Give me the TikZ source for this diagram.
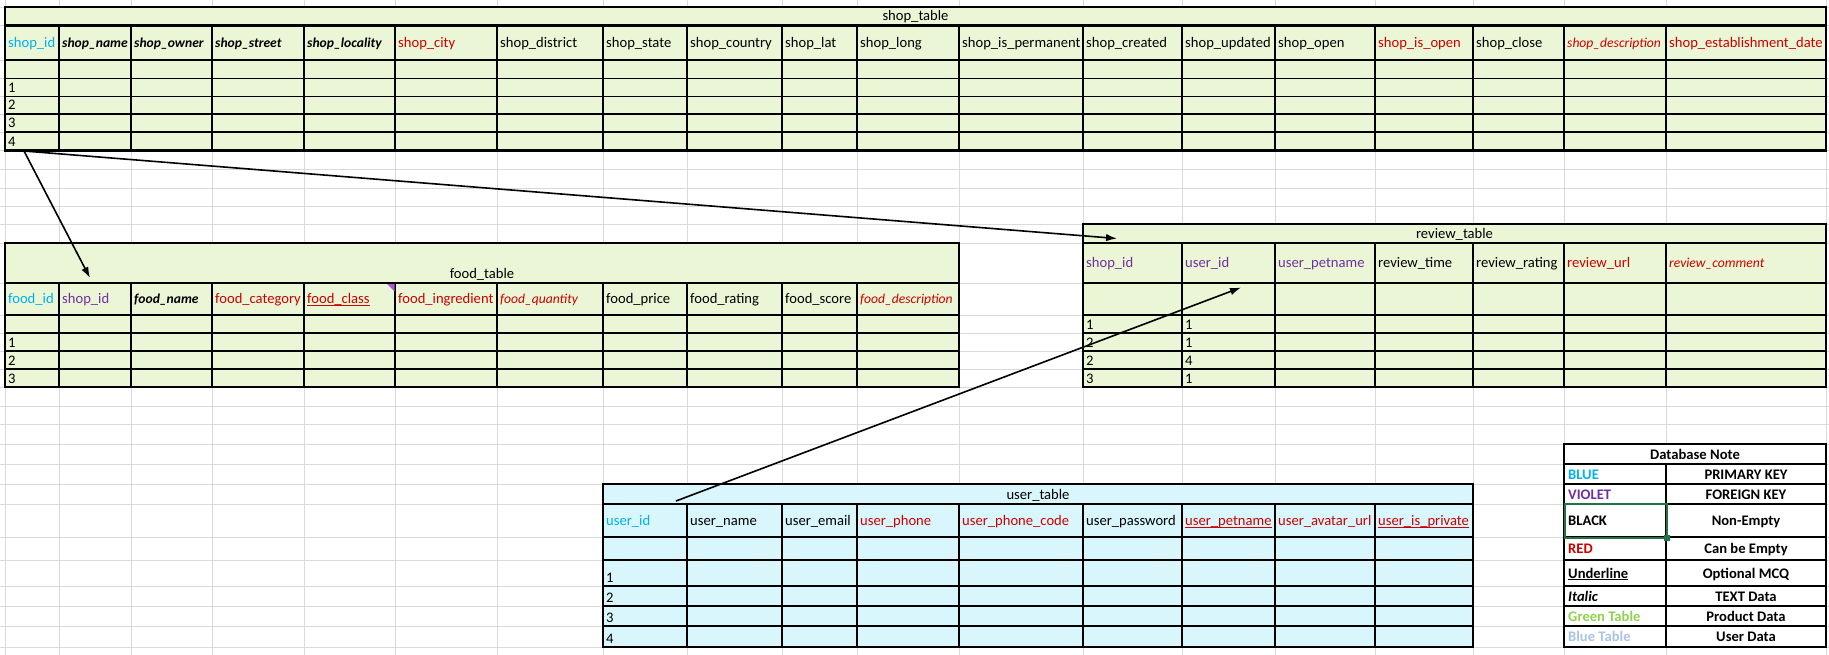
\documentclass[tikz,border=0pt]{standalone}
\usepackage{fontspec}
\setmainfont{Carlito}
\usetikzlibrary{arrows.meta}
\definecolor{gfill}{RGB}{234,246,214}
\definecolor{bfill}{RGB}{216,246,251}
\definecolor{gridc}{RGB}{218,218,218}
\definecolor{pkc}{RGB}{0,176,240}
\definecolor{fkc}{RGB}{112,48,160}
\definecolor{redc}{RGB}{204,0,0}
\definecolor{gtc}{RGB}{146,208,80}
\definecolor{btc}{RGB}{170,195,235}
\definecolor{selc}{RGB}{33,115,70}
\definecolor{cmtc}{RGB}{170,90,210}
\newcommand\ulx[1]{\setbox0\hbox{#1}\rlap{\rule[-2.3pt]{\wd0}{0.9pt}}\box0}
\begin{document}
\begin{tikzpicture}[x=1pt,y=-1pt,
  gridline/.style={draw=gridc,line width=0.9pt},
  tline/.style={line width=1.1pt},
  tmid/.style={line width=1.5pt},
  tbord/.style={line width=2.2pt},
  txt/.style={inner sep=0pt,font=\fontsize{14.6}{17}\selectfont},
  hdr/.style={txt,anchor=base west},
  ttl/.style={txt,anchor=base},
  num/.style={txt,anchor=base west},
  pk/.style={text=pkc}, fk/.style={text=fkc}, nn/.style={text=black}, rd/.style={text=redc},
  it/.style={font=\fontsize{13.6}{17}\selectfont\bfseries\itshape},
  rdi/.style={text=redc,font=\fontsize{13.6}{17}\selectfont\itshape},
  lg/.style={font=\fontsize{14.6}{17}\selectfont\bfseries},
  lgi/.style={font=\fontsize{14.6}{17}\selectfont\bfseries\itshape},
  arr/.style={-{Latex[length=11pt,width=7.5pt]},line width=1.6pt}
]
\useasboundingbox (0,0) rectangle (1829,655);
\fill[white] (0,0) rectangle (1829,655);
% spreadsheet grid
\foreach \x in {5,59,131,212,304,395,497,603,687,782,857,959,1083,1182,1275,1375,1473,1564,1666,1826}
  \draw[gridline] (\x,0) -- (\x,655);
\foreach \y in {7,25.5,60,78.5,96.5,114,132,150.5,169,188,206,224,243,283,315,333,351,369,387,406,424.5,444,464,484,504,537,560,586,606,626,647}
  \draw[gridline] (0,\y) -- (1829,\y);

% ---------------- shop_table
\fill[gfill] (5,7) rectangle (1826,150.5);
\foreach \y in {78.5,96.5,114,132} \draw[tline] (5,\y) -- (1826,\y);
\foreach \x in {59,131,212,304,395,497,603,687,782,857,959,1083,1182,1275,1375,1473,1564,1666}
  \draw[tline] (\x,25.5) -- (\x,150.5);
\draw[tbord] (5,25.5) -- (1826,25.5) (5,60) -- (1826,60);
\draw[tbord] (5,7) rectangle (1826,150.5);
\node[ttl] (shoptitle) at (915.5,21) {shop\_table};
\foreach \x/\t/\s [count=\i] in {5/shop\_id/pk,59/shop\_name/it,131/shop\_owner/it,212/shop\_street/it,
  304/shop\_locality/it,395/shop\_city/rd,497/shop\_district/nn,603/shop\_state/nn,687/shop\_country/nn,
  782/shop\_lat/nn,857/shop\_long/nn,959/shop\_is\_permanent/nn,1083/shop\_created/nn,1182/shop\_updated/nn,
  1275/shop\_open/nn,1375/shop\_is\_open/rd,1473/shop\_close/nn,1564/shop\_description/rdi,
  1666/shop\_establishment\_date/rd}
  \node[hdr,\s] (sh\i) at (\x+3,47.3) {\t};
\foreach \n/\y in {1/92.5,2/110,3/128,4/146.5}
  \node[num] (sn\n) at (8,\y) {\n};

% ---------------- food_table
\fill[gfill] (5,243) rectangle (959,387);
\foreach \y in {333,351,369} \draw[tline] (5,\y) -- (959,\y);
\foreach \x in {59,131,212,304,395,497,603,687,782,857}
  \draw[tline] (\x,283) -- (\x,387);
\draw[tbord] (5,283) -- (959,283) (5,315) -- (959,315);
\draw[tbord] (5,243) rectangle (959,387);
\fill[cmtc] (387,284) -- (394.5,284) -- (394.5,291.5) -- cycle;
\node[ttl] (foodtitle) at (482,279) {food\_table};
\foreach \x/\t/\s [count=\i] in {5/food\_id/pk,59/shop\_id/fk,131/food\_name/it,212/food\_category/rd,
  304/{\ulx{food\_class}}/rd,395/food\_ingredient/rd,497/food\_quantity/rdi,603/food\_price/nn,
  687/food\_rating/nn,782/food\_score/nn,857/food\_description/rdi}
  \node[hdr,\s] (fh\i) at (\x+3,303.8) {\t};
\foreach \n/\y in {1/347,2/365,3/383}
  \node[num] (fn\n) at (8,\y) {\n};

% ---------------- review_table
\fill[gfill] (1083,224) rectangle (1826,387);
\foreach \y in {315,333,351,369} \draw[tline] (1083,\y) -- (1826,\y);
\foreach \x in {1182,1275,1375,1473,1564,1666}
  \draw[tline] (\x,243) -- (\x,387);
\draw[tbord] (1083,243) -- (1826,243) (1083,283) -- (1826,283);
\draw[tbord] (1083,224) rectangle (1826,387);
\node[ttl] (revtitle) at (1454.5,238.5) {review\_table};
\foreach \x/\t/\s [count=\i] in {1083/shop\_id/fk,1182/user\_id/fk,1275/user\_petname/fk,
  1375/review\_time/nn,1473/review\_rating/nn,1564/review\_url/rd,1666/review\_comment/rdi}
  \node[hdr,\s] (rh\i) at (\x+3,268) {\t};
\foreach \a/\b/\y [count=\i] in {1/1/329,2/1/347,2/4/365,3/1/383}{
  \node[num] (ra\i) at (1086,\y) {\a};
  \node[num] (rb\i) at (1185,\y) {\b};
}

% ---------------- user_table
\fill[bfill] (603,484) rectangle (1473,647);
\foreach \y in {560,586,606,626} \draw[tline] (603,\y) -- (1473,\y);
\draw[tmid] (603,504) -- (1473,504) (603,537) -- (1473,537);
\foreach \x in {687,782,857,959,1083,1182,1275,1375}
  \draw[tline] (\x,504) -- (\x,647);
\draw[tbord] (603,484) rectangle (1473,647);
\node[ttl] (usertitle) at (1038,499) {user\_table};
\foreach \x/\t/\s [count=\i] in {603/user\_id/pk,687/user\_name/nn,782/user\_email/nn,857/user\_phone/rd,
  959/user\_phone\_code/rd,1083/user\_password/nn,1182/{\ulx{user\_petname}}/rd,
  1275/user\_avatar\_url/rd,1375/{\ulx{user\_is\_private}}/rd}
  \node[hdr,\s] (uh\i) at (\x+3,525.5) {\t};
\foreach \n/\y in {1/582,2/602,3/622,4/643}
  \node[num] (un\n) at (606,\y) {\n};

% ---------------- legend
\fill[white] (1564,444) rectangle (1826,647);
\foreach \y in {464,484,504,537,560,586,606,626} \draw[tline] (1564,\y) -- (1826,\y);
\draw[tline] (1666,464) -- (1666,647);
\draw[line width=2pt] (1564,444) rectangle (1826,647);
\node[ttl,lg] (lgtitle) at (1695,459) {Database Note};
\foreach \l/\c/\f/\r/\y [count=\i] in {BLUE/pkc/lg/PRIMARY KEY/479,VIOLET/fkc/lg/FOREIGN KEY/499,
  BLACK/black/lg/Non-Empty/525.5,RED/redc/lg/Can be Empty/553.5,{\ulx{Underline}}/black/lg/Optional MCQ/578,
  Italic/black/lgi/TEXT Data/601,Green Table/gtc/lg/Product Data/621,Blue Table/btc/lg/User Data/641.5}{
  \node[num,\f,text=\c] (ll\i) at (1568,\y) {\l};
  \node[ttl,lg] (lr\i) at (1746,\y) {\r};
}
\draw[selc,line width=2pt] (1564.5,504) rectangle (1666.5,537.5);
\fill[selc] (1663.5,534.5) rectangle (1669.5,540.5);

% ---------------- connectors
\coordinate (s4) at (24,151);
\coordinate (fshop) at (90,278);
\coordinate (rtitle) at (1117,238.5);
\coordinate (utitle) at (676,501);
\coordinate (ruser) at (1241,287.5);
\draw[arr] (s4) -- (fshop);
\draw[arr] (s4) -- (rtitle);
\draw[arr] (utitle) -- (ruser);
\end{tikzpicture}
\end{document}
